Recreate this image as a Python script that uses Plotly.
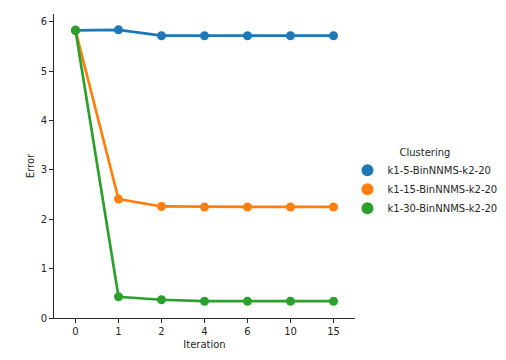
import plotly.graph_objects as go

iterations = ["0", "1", "2", "4", "6", "10", "15"]
names = ["k1-5-BinNNMS-k2-20", "k1-15-BinNNMS-k2-20", "k1-30-BinNNMS-k2-20"]
err_k1_5 = [5.83, 5.84, 5.72, 5.72, 5.72, 5.72, 5.72]
err_k1_15 = [5.83, 2.41, 2.26, 2.25, 2.25, 2.25, 2.25]
err_k1_30 = [5.83, 0.43, 0.37, 0.34, 0.34, 0.34, 0.34]
colors = ["#1f77b4", "#ff7f0e", "#2ca02c"]

fig = go.Figure()
for name, vals, c in zip(names, [err_k1_5, err_k1_15, err_k1_30], colors):
    fig.add_trace(go.Scatter(
        x=list(range(len(iterations))), y=vals, name=name, mode="lines+markers",
        line=dict(color=c, width=2.7), marker=dict(color=c, size=9), showlegend=False,
    ))
# legend entries: dots only, like seaborn
for name, c in zip(names, colors):
    fig.add_trace(go.Scatter(x=[None], y=[None], name=name, mode="markers",
                             marker=dict(color=c, size=10)))

axis_style = dict(showline=True, linecolor="#262626", linewidth=1, ticks="outside",
                  ticklen=4, tickcolor="#262626", showgrid=False, zeroline=False,
                  tickfont=dict(size=10, color="#262626"))
fig.update_xaxes(range=[-0.5, 6.5], tickvals=list(range(len(iterations))), ticktext=iterations,
                 title=dict(text="Iteration", font=dict(size=10, color="#262626"), standoff=4),
                 **axis_style)
fig.update_yaxes(range=[0, 6.16], tickvals=[0, 1, 2, 3, 4, 5, 6],
                 title=dict(text="Error", font=dict(size=10, color="#262626"), standoff=4),
                 **axis_style)

# page body has an 8px margin, so the figure is 8px smaller than the window
fig.update_layout(
    width=498, height=352, template="none",
    font=dict(family="DejaVu Sans", size=10, color="#262626"),
    plot_bgcolor="white", paper_bgcolor="white",
    margin=dict(l=46, r=151, t=6, b=42, autoexpand=False),
    legend=dict(x=0.975, y=0.445, xanchor="left", yanchor="middle",
                title=dict(text="Clustering", side="top center",
                           font=dict(size=10, color="#262626")),
                itemsizing="constant", tracegroupgap=0,
                font=dict(size=10, color="#262626")),
)
fig.write_html("out.html")
